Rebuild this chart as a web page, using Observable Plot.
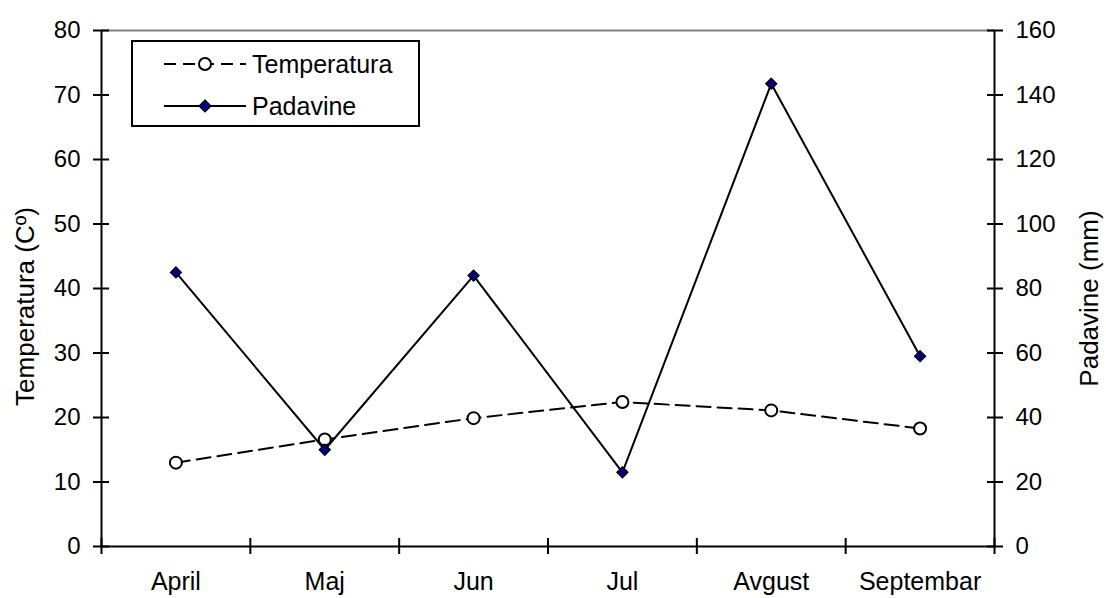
<!DOCTYPE html>
<html>
<head>
<meta charset="utf-8">
<script src="https://cdn.jsdelivr.net/npm/d3@7"></script>
<script src="https://cdn.jsdelivr.net/npm/@observablehq/plot@0.6"></script>
<style>
  html, body { margin: 0; padding: 0; background: white; }
  #wrap { position: relative; width: 1106px; height: 598px; font-family: "Liberation Sans", Arial, sans-serif; }
  #legend { position: absolute; left: 131px; top: 40px; width: 285px; height: 83px; border: 2px solid black; background: white; }
  #legend svg { position: absolute; left: 0; top: 0; }
</style>
</head>
<body>
<div id="wrap"></div>
<script>
const months = ["April", "Maj", "Jun", "Jul", "Avgust", "Septembar"];
const temperatura = [13.0, 16.6, 19.9, 22.4, 21.1, 18.3];
const padavine = [85, 30, 84, 23, 143.5, 59];
const leftTicks = [0, 10, 20, 30, 40, 50, 60, 70, 80];
const seriesNames = ["Temperatura", "Padavine"];
const leftTitle = "Temperatura (Cº)";
const rightTitle = "Padavine (mm)";

const data = months.map((m, i) => ({month: m, pos: i + 0.5, temp: temperatura[i], pad: padavine[i]}));
const bounds = d3.range(0, months.length + 1);

const chart = Plot.plot({
  width: 1106,
  height: 598,
  marginLeft: 101,
  marginRight: 112,
  marginTop: 30,
  marginBottom: 52,
  style: {fontFamily: "'Liberation Sans', Arial, sans-serif", fontSize: "24px", color: "black", background: "white"},
  x: {domain: [0, months.length]},
  y: {domain: [0, 80]},
  marks: [
    Plot.ruleY([80], {stroke: "#808080", strokeWidth: 2}),
    Plot.axisY({ticks: leftTicks, tickSize: 16, dx: 8, tickPadding: 13, strokeWidth: 2, label: null}),
    Plot.axisY({anchor: "right", ticks: leftTicks, tickFormat: d => d * 2, tickSize: 16, dx: -8, tickPadding: 13, strokeWidth: 2, label: null}),
    Plot.axisX({ticks: bounds, tickFormat: () => "", tickSize: 16, dy: -8, strokeWidth: 2, label: null}),
    Plot.axisX({ticks: data.map(d => d.pos), tickFormat: d => months[Math.floor(d)], tickSize: 0, tickPadding: 26, fontSize: 25, label: null}),
    Plot.ruleX([0, months.length], {stroke: "black", strokeWidth: 2}),
    Plot.ruleY([0], {stroke: "black", strokeWidth: 2}),
    Plot.line(data, {x: "pos", y: "temp", stroke: "black", strokeWidth: 2, strokeDasharray: "14,7"}),
    Plot.line(data, {x: "pos", y: d => d.pad / 2, stroke: "black", strokeWidth: 2}),
    Plot.dot(data, {x: "pos", y: "temp", r: 6, fill: "white", stroke: "black", strokeWidth: 2}),
    Plot.dot(data, {x: "pos", y: d => d.pad / 2, symbol: "diamond2", r: 5, fill: "#000080", stroke: "black", strokeWidth: 1.2}),
    Plot.text([leftTitle], {frameAnchor: "left", textAnchor: "middle", rotate: -90, dx: -76, dy: 18, fontSize: 26, fill: "black"}),
    Plot.text([rightTitle], {frameAnchor: "right", textAnchor: "middle", rotate: -90, dx: 95, dy: 10, fontSize: 26, fill: "black"})
  ]
});

const wrap = document.getElementById("wrap");
wrap.appendChild(chart);

// legend
const legend = document.createElement("div");
legend.id = "legend";
wrap.appendChild(legend);
const ns = "http://www.w3.org/2000/svg";
const lsvg = document.createElementNS(ns, "svg");
lsvg.setAttribute("width", 285);
lsvg.setAttribute("height", 83);
legend.appendChild(lsvg);
const rows = [
  {name: seriesNames[0], y: 22, dash: "12,7", marker: "circle"},
  {name: seriesNames[1], y: 64, dash: null, marker: "diamond"}
];
for (const r of rows) {
  const line = document.createElementNS(ns, "line");
  line.setAttribute("x1", 31); line.setAttribute("x2", 113);
  line.setAttribute("y1", r.y); line.setAttribute("y2", r.y);
  line.setAttribute("stroke", "black"); line.setAttribute("stroke-width", 2);
  if (r.dash) line.setAttribute("stroke-dasharray", r.dash);
  lsvg.appendChild(line);
  if (r.marker === "circle") {
    const c = document.createElementNS(ns, "circle");
    c.setAttribute("cx", 72); c.setAttribute("cy", r.y); c.setAttribute("r", 6);
    c.setAttribute("fill", "white"); c.setAttribute("stroke", "black"); c.setAttribute("stroke-width", 2);
    lsvg.appendChild(c);
  } else {
    const p = document.createElementNS(ns, "path");
    p.setAttribute("d", `M72,${r.y - 6}L78,${r.y}L72,${r.y + 6}L66,${r.y}Z`);
    p.setAttribute("fill", "#000080"); p.setAttribute("stroke", "black"); p.setAttribute("stroke-width", 1.2);
    lsvg.appendChild(p);
  }
  const t = document.createElementNS(ns, "text");
  t.setAttribute("x", 119); t.setAttribute("y", r.y);
  t.setAttribute("dy", "0.35em");
  t.setAttribute("font-size", 25);
  t.setAttribute("font-family", "'Liberation Sans', Arial, sans-serif");
  t.setAttribute("fill", "black");
  t.textContent = r.name;
  lsvg.appendChild(t);
}
</script>
</body>
</html>
